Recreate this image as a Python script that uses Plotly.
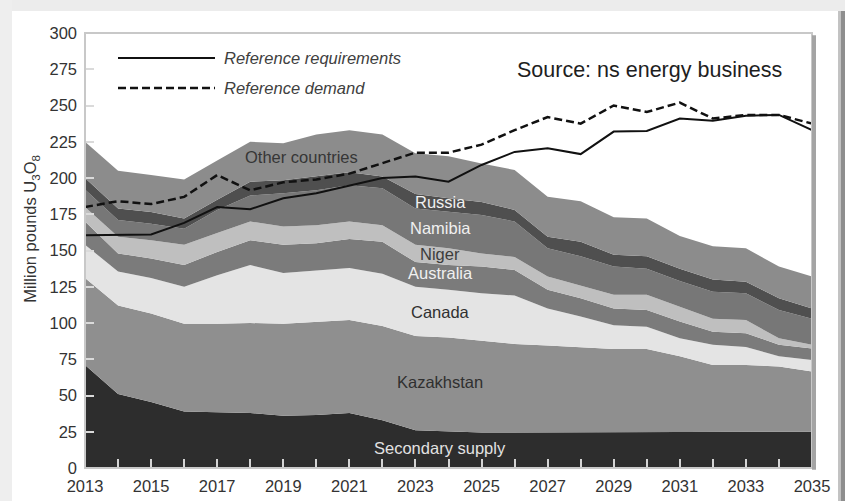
import plotly.graph_objects as go

# Years on the horizontal axis
years = list(range(2013, 2036))

# Supply by source (million pounds U3O8), stacked bottom to top
secondary_supply = [71, 51, 45.5, 39, 38.5, 38, 36, 36.5, 38, 33, 26, 25, 24.5, 24.5, 24.5, 25, 25, 25, 25, 25, 25, 25, 25]
kazakhstan = [60, 61, 61, 60.5, 61, 62, 63.5, 64.5, 64, 65, 65, 65, 63.5, 61, 60, 58, 57, 57, 52, 46, 46, 45, 41.5]
canada = [23, 23.5, 24.5, 25.5, 33.5, 40, 35, 35.5, 36, 36, 34, 33, 32.5, 33.5, 25.5, 21.5, 16.5, 15.5, 12.5, 14, 12.5, 7, 8]
australia = [16, 12.5, 13.5, 15, 16, 17, 19.5, 18.5, 20, 22, 17, 17, 18.5, 17.5, 13, 12.5, 11.5, 11.5, 11.5, 9, 9.5, 8, 8]
niger = [10, 11.5, 12.5, 14, 13, 13, 12.5, 12.5, 12, 11.5, 12, 11.5, 9, 9, 9, 9, 9.5, 10.5, 10.5, 9, 9, 4.5, 2.5]
namibia = [12, 11.5, 11.5, 11, 16, 18, 23, 24, 25, 25.5, 25, 25.5, 26.5, 24.5, 19.5, 20, 19.5, 18, 17.5, 18.5, 18.5, 19.5, 18]
russia = [8, 8, 8, 7, 7, 9.5, 9, 9.5, 9, 8, 10, 9, 9, 8, 8, 10, 8, 8.5, 8.5, 8.5, 8, 8, 7]
other_countries = [25, 26, 25.5, 27, 27, 27.5, 25.5, 29, 29, 29, 28, 29, 26.5, 27.5, 27.5, 28, 26, 26, 22.5, 23, 23, 22, 22]

# Reference scenario lines
reference_requirements = [160.5, 161, 161, 169, 180, 178.5, 186, 189.5, 195, 200, 201, 197.5, 209, 218, 220.5, 216.5,
                          232, 232.5, 241, 239.5, 243, 243.5, 233]
reference_demand = [180, 184, 182, 187, 202, 191.5, 197, 199, 203, 210, 217.5, 217.5, 223, 233, 242, 237.5,
                    250, 245.5, 252, 241, 243.5, 243.5, 237.5]

layer_names = ["Secondary supply", "Kazakhstan", "Canada", "Australia", "Niger", "Namibia", "Russia", "Other countries"]
layer_values = [secondary_supply, kazakhstan, canada, australia, niger, namibia, russia, other_countries]
layer_colors = ["#2d2d2d", "#8f8f8f", "#e4e4e4", "#7b7b7b", "#bfbfbf", "#777777", "#4f4f4f", "#8c8c8c"]

# In-chart labels: text, x (year), y (value), colour
label_text = ["Other countries", "Russia", "Namibia", "Niger", "Australia", "Canada", "Kazakhstan", "Secondary supply"]
label_x = [2019.55, 2023.75, 2023.75, 2023.75, 2023.75, 2023.75, 2023.75, 2023.75]
label_y = [214.5, 183.7, 165.5, 147.6, 134.5, 107.6, 59.5, 13.8]
label_color = ["#363636", "#f0f0f0", "#f0f0f0", "#3c3c3c", "#f0f0f0", "#303030", "#303030", "#e2e2e2"]

FONT = "Liberation Sans, Arial, Helvetica, sans-serif"

fig = go.Figure()

for name, vals, col in zip(layer_names, layer_values, layer_colors):
    fig.add_trace(go.Scatter(
        x=years, y=vals, name=name, stackgroup="supply", mode="lines",
        line=dict(width=0, color=col), fillcolor=col, showlegend=False,
    ))

fig.add_trace(go.Scatter(
    x=years, y=reference_demand, name="Reference demand", mode="lines",
    line=dict(color="#111111", width=2.5, dash="8px,4px"), showlegend=False,
))
fig.add_trace(go.Scatter(
    x=years, y=reference_requirements, name="Reference requirements", mode="lines",
    line=dict(color="#111111", width=2), showlegend=False,
))

annotations = []
for t, x, y, c in zip(label_text, label_x, label_y, label_color):
    annotations.append(dict(x=x, y=y, xref="x", yref="y", text=t, showarrow=False,
                            font=dict(family=FONT, size=16.5, color=c)))

# Legend drawn inside the plot area
annotations += [
    dict(x=0.1884, y=0.9425, xref="paper", yref="paper", xanchor="left", yanchor="middle",
         text="<i>Reference requirements</i>", showarrow=False,
         font=dict(family=FONT, size=16.5, color="#404040")),
    dict(x=0.1884, y=0.8736, xref="paper", yref="paper", xanchor="left", yanchor="middle",
         text="<i>Reference demand</i>", showarrow=False,
         font=dict(family=FONT, size=16.5, color="#404040")),
    dict(x=0.592, y=0.915, xref="paper", yref="paper", xanchor="left", yanchor="middle",
         text="Source: ns energy business", showarrow=False,
         font=dict(family=FONT, size=21.5, color="#1e1e1e")),
    dict(x=-0.0743, y=0.55, xref="paper", yref="paper", xanchor="center", yanchor="middle",
         text="Million pounds U<sub>3</sub>O<sub>8</sub>", textangle=-90, showarrow=False,
         font=dict(family=FONT, size=16.5, color="#333333")),
]

shapes = [
    # outer page tones
    dict(type="rect", xref="paper", yref="paper", x0=-0.2, x1=1.2, y0=1.0506, y1=1.2,
         fillcolor="#ececec", line=dict(width=0), layer="above"),
    dict(type="rect", xref="paper", yref="paper", x0=-0.2, x1=-0.1004, y0=-0.2, y1=1.2,
         fillcolor="#eeeeee", line=dict(width=0), layer="above"),
    dict(type="rect", xref="paper", yref="paper", x0=1.0358, x1=1.0399, y0=-0.2, y1=1.0506,
         fillcolor="#c2c2c2", line=dict(width=0), layer="above"),
    dict(type="rect", xref="paper", yref="paper", x0=1.0399, x1=1.2, y0=-0.2, y1=1.0506,
         fillcolor="#8e8e8e", line=dict(width=0), layer="above"),
    # plot frame and its shadow
    dict(type="rect", xref="paper", yref="paper", x0=0, x1=1, y0=0, y1=1,
         line=dict(color="#c8c8c8", width=2), layer="above"),
    dict(type="rect", xref="paper", yref="paper", x0=1.0, x1=1.0055, y0=-0.004, y1=0.995,
         fillcolor="#a4a4a4", line=dict(width=0), layer="above"),
    # legend samples
    dict(type="line", xref="paper", yref="paper", x0=0.0454, x1=0.1788, y0=0.9425, y1=0.9425,
         line=dict(color="#111111", width=2), layer="above"),
    dict(type="line", xref="paper", yref="paper", x0=0.0454, x1=0.1788, y0=0.8736, y1=0.8736,
         line=dict(color="#111111", width=2.5, dash="8px,4px"), layer="above"),
]

fig.update_layout(
    width=845, height=501,
    margin=dict(l=85, r=33, t=33, b=33, autoexpand=False),
    paper_bgcolor="white", plot_bgcolor="white",
    font=dict(family=FONT, size=16, color="#333333"),
    annotations=annotations, shapes=shapes,
    xaxis=dict(range=[2013, 2035], tick0=2013, dtick=2, ticks="inside", ticklen=9, automargin=False,
               tickcolor="#d4d4d4", tickwidth=1.5, showgrid=False, zeroline=False, showline=False,
               tickfont=dict(family=FONT, size=16.5, color="#333333"), ticklabelstandoff=6,
               minor=dict(dtick=1, ticks="inside", ticklen=9, tickcolor="#d4d4d4", tickwidth=1.5, showgrid=False)),
    yaxis=dict(range=[0, 300], dtick=25, ticks="inside", ticklen=9, tickcolor="#dadada", tickwidth=1.5,
               showgrid=False, zeroline=False, showline=False, automargin=False,
               tickfont=dict(family=FONT, size=16.5, color="#333333"), ticklabelstandoff=7),
)

fig.write_html("out.html")
